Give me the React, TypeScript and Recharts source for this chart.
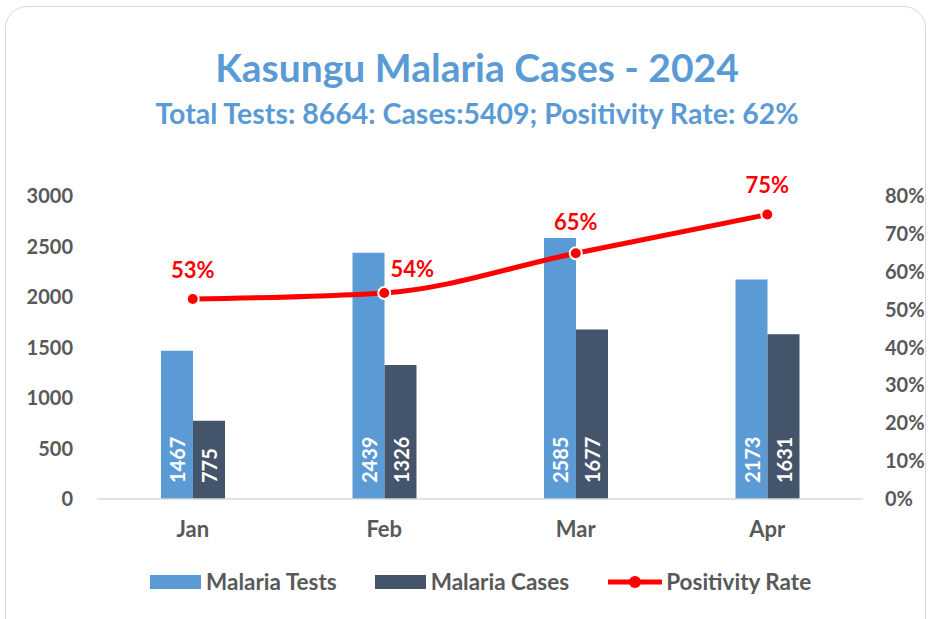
import React from 'react';
import { Bar, ComposedChart, LabelList, Line, XAxis, YAxis } from 'recharts';

const months = ['Jan', 'Feb', 'Mar', 'Apr'];
const malariaTests = [1467, 2439, 2585, 2173];
const malariaCases = [775, 1326, 1677, 1631];
const positivityRate = [52.8, 54.4, 64.9, 75.1];
const leftTicks = [0, 500, 1000, 1500, 2000, 2500, 3000];
const rightTicks = [0, 10, 20, 30, 40, 50, 60, 70, 80];

const BLUE = '#5B9BD5';
const NAVY = '#44546A';
const RED = '#FF0000';
const GREY = '#595959';
const FONT = 'Lato, "Liberation Sans", sans-serif';

// hand-placed label offsets, like the original workbook
const rateLabelOffsets = [
    [0, -30],
    [28, -24],
    [0, -32],
    [0, -30],
];

const data = months.map((m, i) => ({
    month: m,
    tests: malariaTests[i],
    cases: malariaCases[i],
    rate: positivityRate[i],
}));

const BarValue = (props: any) => {
    const { x, y, width, height, value } = props;
    const cx = x + width / 2;
    const by = y + height - 16;
    return (
        <text
            x={cx}
            y={by}
            fill="#fff"
            fontSize={20}
            fontWeight={700}
            fontFamily={FONT}
            textAnchor="start"
            dominantBaseline="central"
            transform={`rotate(-90 ${cx} ${by})`}
        >
            {value}
        </text>
    );
};

const RateValue = (props: any) => {
    const { x, y, value, index } = props;
    const [dx, dy] = rateLabelOffsets[index] || [0, -30];
    return (
        <text
            x={x + dx}
            y={y + dy}
            fill={RED}
            fontSize={22}
            fontWeight={700}
            fontFamily={FONT}
            textAnchor="middle"
            dominantBaseline="central"
        >
            {`${Math.round(value)}%`}
        </text>
    );
};

const legendItems = [
    { name: 'Malaria Tests', kind: 'bar', color: BLUE },
    { name: 'Malaria Cases', kind: 'bar', color: NAVY },
    { name: 'Positivity Rate', kind: 'line', color: RED },
];

export default function App() {
    return (
        <div style={{ position: 'absolute', left: 0, top: 0, width: 930, height: 619, overflow: 'hidden', background: '#fff', fontFamily: FONT }}>
            <div
                style={{
                    position: 'absolute',
                    left: 5,
                    top: 6,
                    width: 921,
                    height: 640,
                    border: '1.5px solid #D9D9D9',
                    borderRadius: 22,
                    boxSizing: 'border-box',
                }}
            />
            <div style={{ position: 'absolute', top: 44, width: 930, left: 12, textAlign: 'center', color: BLUE, fontWeight: 700, fontSize: 39, lineHeight: '46px' }}>
                Kasungu Malaria Cases - 2024
            </div>
            <div style={{ position: 'absolute', top: 96, width: 930, left: 12, textAlign: 'center', color: BLUE, fontWeight: 700, fontSize: 28.5, lineHeight: '34px' }}>
                Total Tests: 8664: Cases:5409; Positivity Rate: 62%
            </div>
            <div style={{ position: 'absolute', left: 0, top: 0 }}>
                <ComposedChart
                    width={930}
                    height={619}
                    data={data}
                    margin={{ top: 196, right: 0, bottom: 90, left: 0 }}
                    barCategoryGap={64}
                    barGap={0}
                >
                    <XAxis
                        dataKey="month"
                        height={30}
                        axisLine={{ stroke: '#D9D9D9', strokeWidth: 1.5 }}
                        tickLine={false}
                        tickSize={0}
                        tickMargin={22}
                        tick={{ fill: GREY, fontSize: 22, fontWeight: 700, fontFamily: FONT }}
                    />
                    <YAxis
                        yAxisId="left"
                        width={97}
                        domain={[0, 3000]}
                        ticks={leftTicks}
                        axisLine={false}
                        tickLine={false}
                        tickSize={0}
                        tickMargin={24}
                        tick={{ fill: GREY, fontSize: 20, fontWeight: 700, fontFamily: FONT }}
                    />
                    <YAxis
                        yAxisId="right"
                        orientation="right"
                        width={67}
                        domain={[0, 80]}
                        ticks={rightTicks}
                        tickFormatter={(v) => `${v}%`}
                        axisLine={false}
                        tickLine={false}
                        tickSize={0}
                        tickMargin={22}
                        tick={{ fill: GREY, fontSize: 20, fontWeight: 700, fontFamily: FONT, textAnchor: 'start' }}
                    />
                    <Bar yAxisId="left" dataKey="tests" name="Malaria Tests" fill={BLUE} isAnimationActive={false}>
                        <LabelList dataKey="tests" content={BarValue} />
                    </Bar>
                    <Bar yAxisId="left" dataKey="cases" name="Malaria Cases" fill={NAVY} isAnimationActive={false}>
                        <LabelList dataKey="cases" content={BarValue} />
                    </Bar>
                    <Line
                        yAxisId="right"
                        type="monotone"
                        dataKey="rate"
                        name="Positivity Rate"
                        stroke={RED}
                        strokeWidth={5}
                        dot={{ r: 6, fill: RED, stroke: '#fff', strokeWidth: 2 }}
                        isAnimationActive={false}
                    >
                        <LabelList dataKey="rate" content={RateValue} />
                    </Line>
                </ComposedChart>
            </div>
            <div style={{ position: 'absolute', top: 568, left: 150, display: 'flex', alignItems: 'center', color: GREY, fontSize: 22.5, fontWeight: 700 }}>
                {legendItems.map((item, i) => (
                    <div key={`legend-${i}`} style={{ display: 'flex', alignItems: 'center', marginRight: 38 }}>
                        {item.kind === 'bar' ? (
                            <span style={{ display: 'inline-block', width: 51, height: 14, background: item.color, marginRight: 5 }} />
                        ) : (
                            <svg width={56} height={14} style={{ marginRight: 3 }}>
                                <line x1={1} y1={7} x2={55} y2={7} stroke={item.color} strokeWidth={5} />
                                <circle cx={28} cy={7} r={6} fill={item.color} />
                            </svg>
                        )}
                        <span>{item.name}</span>
                    </div>
                ))}
            </div>
        </div>
    );
}
